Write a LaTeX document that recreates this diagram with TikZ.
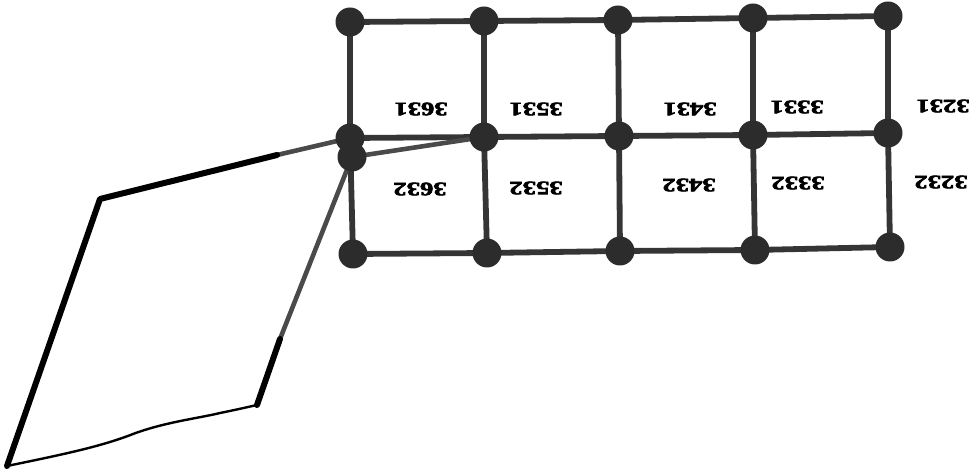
\documentclass[tikz,border=0pt]{standalone}
\usepackage{fontspec}
\setmainfont{Liberation Serif}
\newfontfamily\cellfont{Liberation Serif Bold}[FakeBold=3]
\usetikzlibrary{backgrounds}
\definecolor{gridgray}{HTML}{353535}
\definecolor{dotgray}{HTML}{2C2C2C}
\definecolor{linkgray}{HTML}{4A4A4A}
\tikzset{
  joint/.style={circle, fill=dotgray, inner sep=0pt, minimum size=29pt},
  bar/.style={draw=gridgray, line width=5.8pt},
  link/.style={draw=linkgray, line width=4.6pt},
  frame/.style={draw=black, line width=6pt, line cap=round, line join=round},
  seam/.style={draw=black, line width=2.4pt},
  cellno/.style={font=\cellfont\fontsize{19}{19}\selectfont, rotate=180, inner sep=0pt}
}
\newcommand{\wide}[1]{\scalebox{1.4}[1]{#1}}
\begin{document}
\begin{tikzpicture}[x=1pt, y=-1pt]
\useasboundingbox (0,0) rectangle (978,473);

% joints of the grid
\node[joint] (t1) at (350,22) {};
\node[joint] (t2) at (484,21) {};
\node[joint] (t3) at (618,20) {};
\node[joint] (t4) at (753,18) {};
\node[joint] (t5) at (888,16) {};
\node[joint] (m1) at (350,138) {};
\node[joint] (m2) at (484,137) {};
\node[joint] (m3) at (619,136) {};
\node[joint] (m4) at (753,135) {};
\node[joint] (m5) at (888,133) {};
\node[joint] (e1) at (352,157) {};
\node[joint] (b1) at (353,254) {};
\node[joint] (b2) at (487,253) {};
\node[joint] (b3) at (620,251) {};
\node[joint] (b4) at (755,250) {};
\node[joint] (b5) at (890,247) {};

% corners of the plate
\coordinate (pA) at (100,199);
\coordinate (pB) at (7,466);
\coordinate (pC) at (257,405);
\coordinate (pD) at (277,155);
\coordinate (pE) at (280,339);

\begin{scope}[on background layer]
  % grid bars
  \foreach \r in {t,m,b}{
    \draw[bar] (\r1.center) -- (\r2.center) -- (\r3.center) -- (\r4.center) -- (\r5.center);
  }
  \foreach \c in {1,...,5}{
    \draw[bar] (t\c.center) -- (m\c.center) -- (b\c.center);
  }
  % links from the plate to the grid
  \draw[link] (e1.center) -- (m2.center);
  \draw[link] (m1.center) -- (pD);
  \draw[link] (e1.center) -- (pE);
  % the plate
  \draw[frame] (pD) -- (pA) -- (pB);
  \draw[frame] (pC) -- (pE);
  \draw[seam] (pB) .. controls (60,455) and (100,447) .. (133,434)
                   .. controls (165,422) and (200,418) .. (220,413)
                   .. controls (235,410) and (248,407) .. (pC);
\end{scope}

% cell numbers
\node[cellno] (c3631) at (421,109) {\wide{3631}};
\node[cellno] (c3531) at (536,109) {\wide{3531}};
\node[cellno] (c3431) at (690,109) {\wide{3431}};
\node[cellno] (c3331) at (797,107) {\wide{3331}};
\node[cellno] (c3231) at (943,106) {\wide{3231}};
\node[cellno] (c3632) at (420,189) {\wide{3632}};
\node[cellno] (c3532) at (536,188) {\wide{3532}};
\node[cellno] (c3432) at (689,185) {\wide{3432}};
\node[cellno] (c3332) at (798,183) {\wide{3332}};
\node[cellno] (c3232) at (941,182) {\wide{3232}};
\end{tikzpicture}
\end{document}
